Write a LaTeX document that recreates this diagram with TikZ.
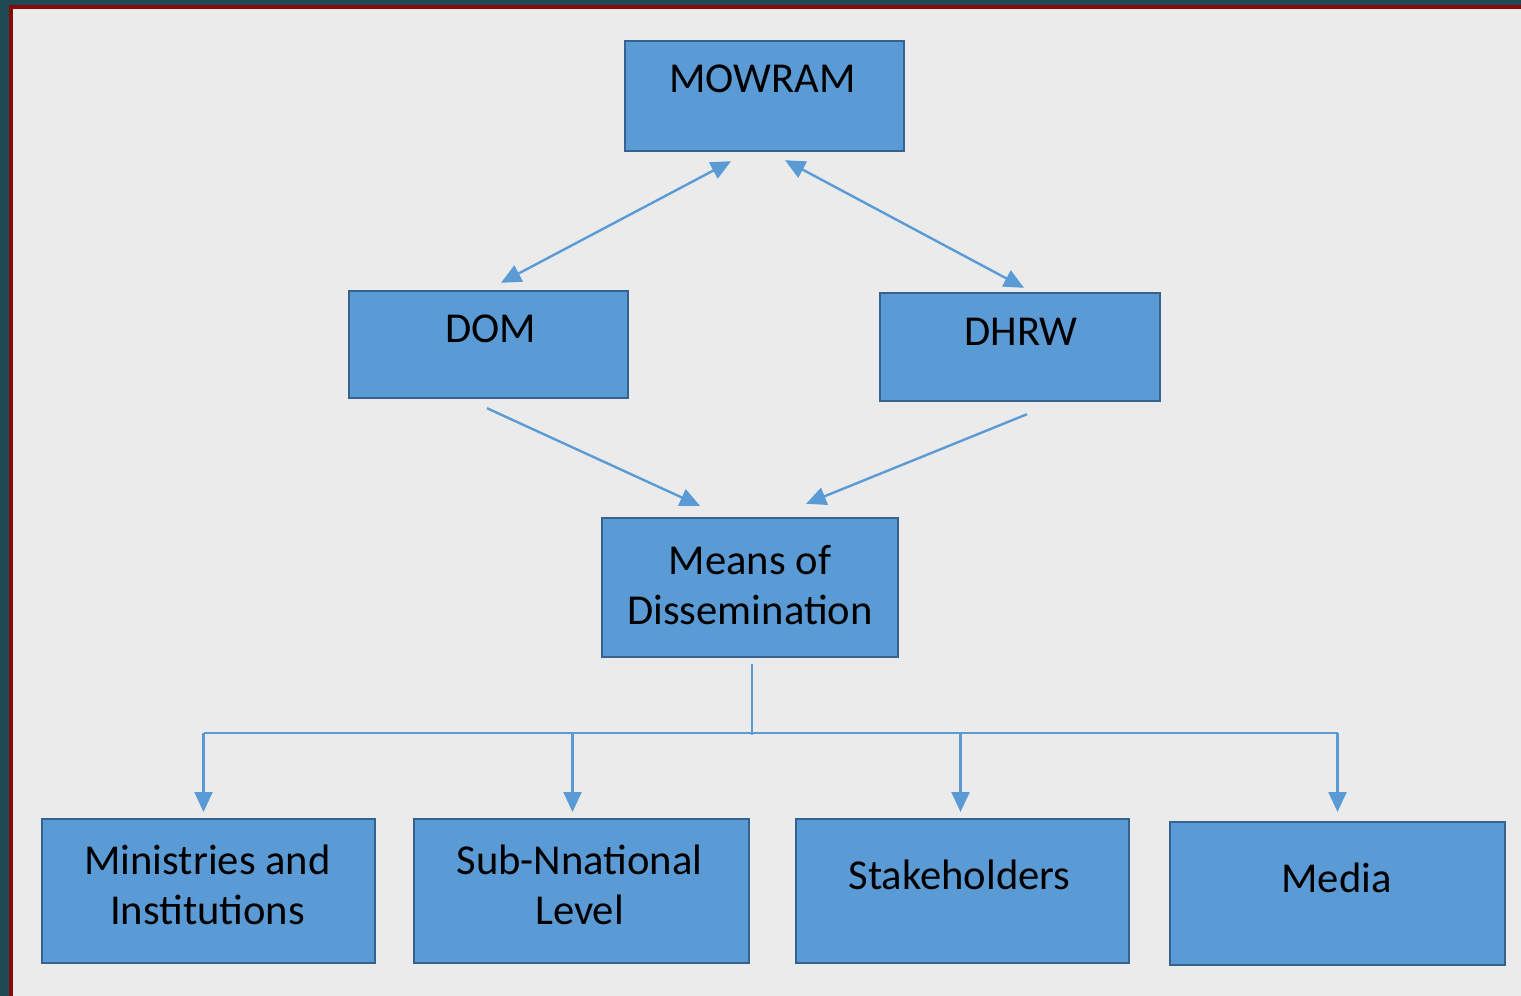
\documentclass[tikz,border=0pt]{standalone}
\usepackage{fontspec}
\setmainfont{Carlito}
\usepackage{xcolor}
\definecolor{frameteal}{HTML}{1D4A53}
\definecolor{framered}{HTML}{850A0A}
\definecolor{pagegray}{HTML}{EBEBEB}
\definecolor{boxblue}{HTML}{5B9BD5}
\definecolor{boxedge}{HTML}{35628F}
\definecolor{linkblue}{HTML}{5B9BD5}
\usetikzlibrary{arrows.meta,calc}

\begin{document}
\begin{tikzpicture}[>={Triangle[length=10pt,width=9pt]},x=0.5pt,y=-0.5pt]
\tikzset{
 box/.style 2 args={draw=boxedge,line width=1.2pt,fill=boxblue,minimum width=#1,minimum height=#2,inner sep=0pt},
 txt/.style={align=center,inner sep=0pt,font=\fontsize{21.3}{25}\selectfont},
 a/.style={draw=linkblue,line width=1.2pt}
}
% page and frame
\fill[frameteal] (0,0) rectangle (1521,996);
\fill[framered] (9,5) rectangle (1521,996);
\fill[pagegray] (13,9) rectangle (1521,996);
\useasboundingbox (0,0) rectangle (1521,996);
% boxes
\node[box={139.5pt}{55pt}] (mowram) at (764.5,96) {};
\node[box={139.5pt}{53.5pt}] (dom) at (488.5,344.5) {};
\node[box={140pt}{54pt}] (dhrw) at (1020,347) {};
\node[box={148pt}{69.5pt}] (means) at (750,587.5) {};
\node[box={166.5pt}{72pt}] (min) at (208.5,891) {};
\node[box={167.5pt}{72pt}] (sub) at (581.5,891) {};
\node[box={166.5pt}{72pt}] (stake) at (962.5,891) {};
\node[box={167.5pt}{71.5pt}] (media) at (1337.5,893.5) {};
% texts, set high in the boxes
\node[txt] (mowramtxt) at ($(mowram.north)+(-2,39)$) {MOWRAM};
\node[txt] (domtxt) at ($(dom.north)+(2,39)$) {DOM};
\node[txt] (dhrwtxt) at ($(dhrw.north)+(1,40)$) {DHRW};
\node[txt] (meanstxt) at ($(means.north)+(0,68)$) {Means of\\Dissemination};
\node[txt] (mintxt) at ($(min.north)+(-1,67.5)$) {Ministries and\\Institutions};
\node[txt] (subtxt) at ($(sub.north)+(-2,67.5)$) {Sub-Nnational\\Level};
\node[txt] (staketxt) at ($(stake.north)+(-3,57)$) {Stakeholders};
\node[txt] (mediatxt) at ($(media.north)+(-1,57)$) {Media};
% arrows
\draw[a,<->] ($(mowram.south)+(-33.5,9)$) -- ($(dom.north)+(12.5,-7)$);
\draw[a,<->] ($(mowram.south)+(20.5,8)$) -- ($(dhrw.north)+(4,-4)$);
\draw[a,->] ($(dom.south)+(-1.5,9)$) -- ($(means.north)+(-50,-11)$);
\draw[a,->] ($(dhrw.south)+(7,12)$) -- ($(means.north)+(56,-13)$);
% tree below
\coordinate (bus) at (752,733);
\coordinate (tips) at (752,812);
\draw[a] ($(means.south)+(2,6)$) -- ($(bus)+(0,2)$);
\draw[a] ($(min.north |- bus)+(-5,0)$) -- (media.north |- bus);
\foreach \bx/\dx in {min/-5,sub/-9,stake/-2,media/0}{\draw[a,->] ($(\bx.north |- bus)+(\dx,0)$) -- ($(\bx.north |- tips)+(\dx,0)$);}
\end{tikzpicture}
\end{document}
